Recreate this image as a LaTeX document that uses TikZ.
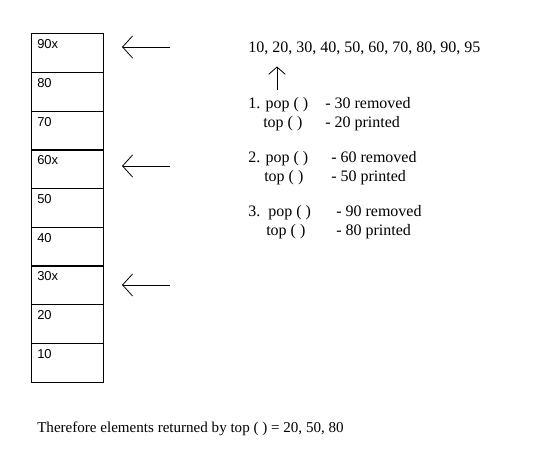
\documentclass[tikz,border=0pt]{standalone}
\usepackage{fontspec}
\setmainfont{Liberation Serif}
\newfontfamily\cellfont{Liberation Sans}
\usetikzlibrary{arrows.meta}
\tikzset{
    cell/.style={
        draw,
        rectangle,
        minimum width=54pt,
        minimum height=29pt,
        inner sep=0pt,
        line width=0.7pt
    },
    celltext/.style={
        anchor=base west,
        inner sep=0pt,
        font=\cellfont\fontsize{9.7pt}{11pt}\selectfont
    },
    note/.style={
        anchor=base west,
        inner sep=0pt,
        font=\fontsize{12pt}{14pt}\selectfont
    },
    pointer/.style={
        draw,
        line width=0.6pt,
        -{Straight Barb[length=7.5pt, width=16.5pt, line width=0.6pt]}
    },
    uppointer/.style={
        draw,
        line width=0.6pt,
        -{Straight Barb[length=5.5pt, width=12.5pt, line width=0.6pt]}
    }
}

\begin{document}
\begin{tikzpicture}[x=0.75pt, y=-0.75pt]
  \useasboundingbox (0,0) rectangle (554,470);

  % Stack cells, top to bottom
  \node[cell] (c90) at (67,53.3) {};
  \node[cell] (c80) at (67,92) {};
  \node[cell] (c70) at (67,130.7) {};
  \node[cell] (c60) at (67,169.3) {};
  \node[cell] (c50) at (67,208) {};
  \node[cell] (c40) at (67,246.7) {};
  \node[cell] (c30) at (67,285.3) {};
  \node[cell] (c20) at (67,324) {};
  \node[cell] (c10) at (67,362.7) {};

  % Cell labels
  \node[celltext] (l90) at (37,49) {90x};
  \node[celltext] (l80) at (37,88) {80};
  \node[celltext] (l70) at (37,126.5) {70};
  \node[celltext] (l60) at (37,165) {60x};
  \node[celltext] (l50) at (37,204) {50};
  \node[celltext] (l40) at (37,243) {40};
  \node[celltext] (l30) at (37,281) {30x};
  \node[celltext] (l20) at (37,320) {20};
  \node[celltext] (l10) at (37,359) {10};

  % Pointers to removed elements
  \coordinate (p90a) at (170,47);
  \coordinate (p90b) at (122,47);
  \coordinate (p60a) at (170,166);
  \coordinate (p60b) at (122,166);
  \coordinate (p30a) at (170,285);
  \coordinate (p30b) at (122,285);
  \draw[pointer] (p90a) -- (p90b);
  \draw[pointer] (p60a) -- (p60b);
  \draw[pointer] (p30a) -- (p30b);

  % Input sequence
  \node[note] (seq) at (248,53) {10, 20, 30, 40, 50, 60, 70, 80, 90, 95};
  \coordinate (upa) at (277,90);
  \coordinate (upb) at (277,66.5);
  \draw[uppointer] (upa) -- (upb);

  % Operations
  \node[note] (pop1) at (248,109) {1. pop ( )};
  \node[note] (top1) at (263,128) {top ( )};
  \node[note] (res1) at (325,109) {- 30 removed};
  \node[note] (out1) at (325,128) {- 20 printed};

  \node[note] (pop2) at (248,163) {2. pop ( )};
  \node[note] (top2) at (264,182) {top ( )};
  \node[note] (res2) at (331,163) {- 60 removed};
  \node[note] (out2) at (331,182) {- 50 printed};

  \node[note] (pop3) at (248,217) {3.\ \ pop ( )};
  \node[note] (top3) at (266,236) {top ( )};
  \node[note] (res3) at (336,217) {- 90 removed};
  \node[note] (out3) at (336,236) {- 80 printed};

  % Result
  \node[note, font=\fontsize{11.3pt}{13pt}\selectfont] (result) at (37,433) {Therefore elements returned by top ( ) = 20, 50, 80};
\end{tikzpicture}
\end{document}
